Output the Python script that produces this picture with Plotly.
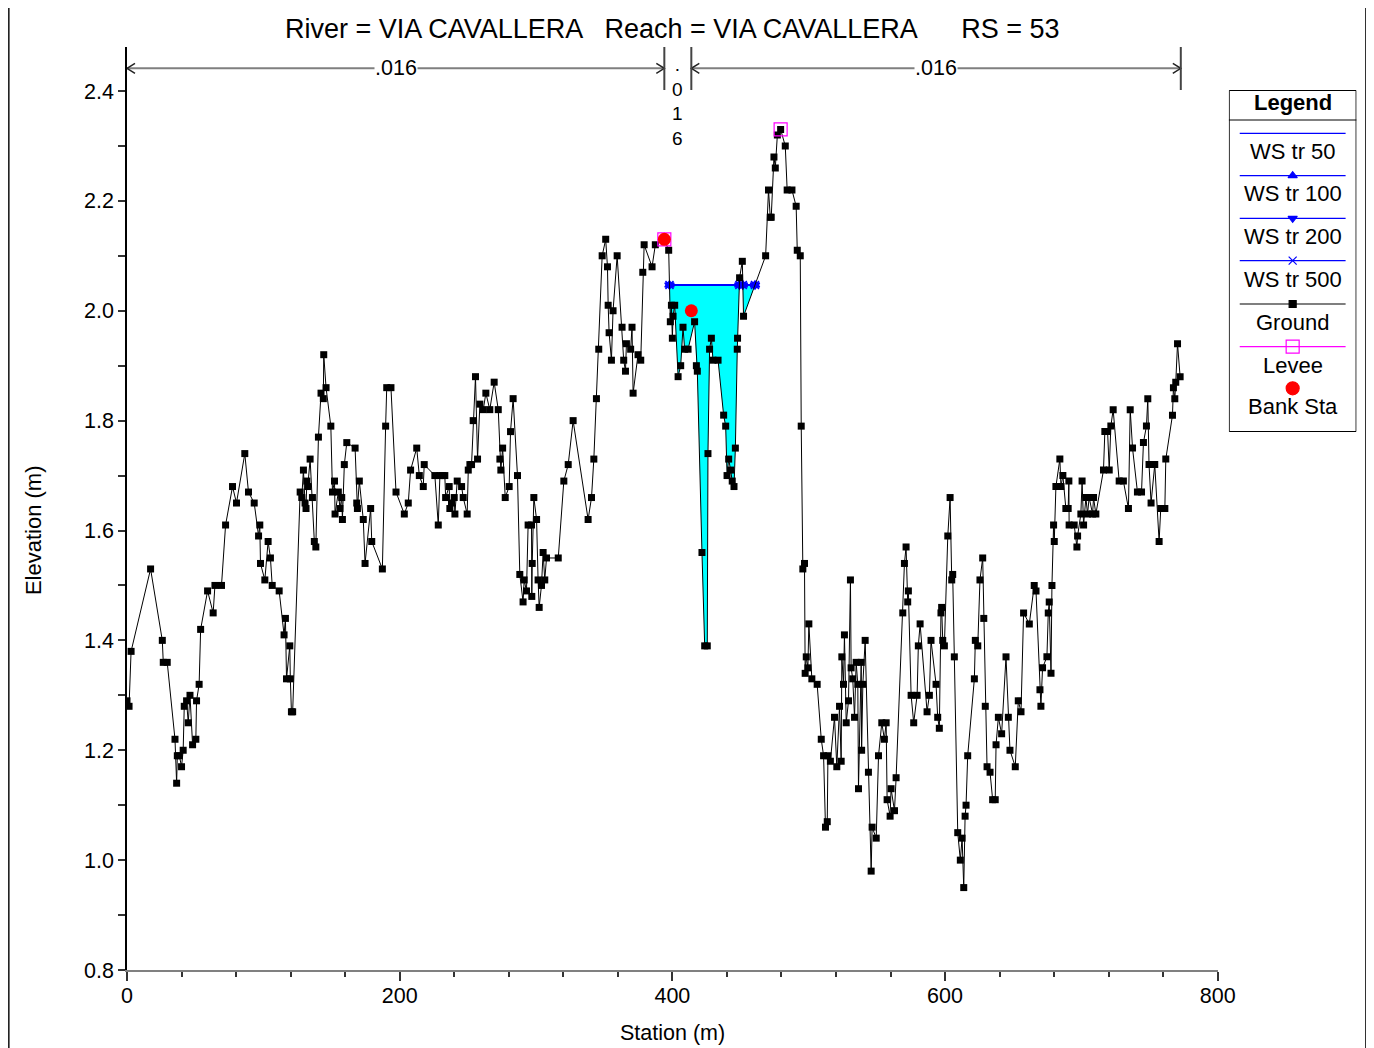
import plotly.graph_objects as go

# ---------------- data ----------------
station = [
    0, 1.5, 3, 17.3, 25.9, 26.6, 29.5, 35.2, 36.4, 36.9, 38.4, 40, 41.2, 42, 43.7, 44.9, 46.2, 48.1, 50.5, 51,
    52.9, 54, 59.1, 63.2, 64.5, 69.3, 72.3, 77.4, 80.3, 86.4, 89.1, 93.3, 96.5, 97.4, 97.9, 101.1, 103.5, 105.2,
    106.5, 111.6, 115.2, 116.2, 117, 119.4, 119.8, 120.6, 121.5,
    127, 128.2, 129.4, 130.6, 131.3, 131.9, 132.6, 134.3, 136, 137.4, 138.5, 140.4, 142.3, 144, 144.3, 146,
    149.5, 150.7, 152.2, 152.6, 155, 156.2, 157.5, 158, 159.4, 161.2, 167.3, 168.5, 169, 170.4, 173.3, 174.6,
    178.7, 179.5, 187.3, 189.7, 190.5, 193.6, 197.3, 203.4, 206.3, 208, 212.5, 214.4, 217.3, 218, 225.8, 228.3,
    229.5, 231.3, 233.1, 233.7, 236.3, 236.8, 238, 240, 240.5, 242.2, 245.4, 246.6, 249.5, 250.3, 251.5, 252.7,
    253.9, 255.6, 257.1, 258.8, 261.3, 263.2, 266.1, 269.3, 272.3, 273.5, 274.2, 275.5, 277.4, 280.3, 281.3,
    283.2, 286.4, 288.1, 290.5, 291.3, 293, 294.2, 296.7, 296.9, 297.2, 298.4, 300.4, 301.5, 302.3, 304, 305.2,
    306.4, 307.7, 316.3, 320.4, 323.6, 327.2, 338.2, 340.7, 342.4, 344.3, 346, 348.5, 351.1, 352.4, 352.9,
    353.6, 355.3, 356.5, 359.5, 363.1, 364.3, 365.6, 366.3, 369.4, 370.4, 371.2, 374.8, 376.8, 378.3, 379.3,
    385.1, 387.5, 394.1, 397.3, 398.5, 399.3, 400, 400.5, 401.7, 404.2, 406.1, 407.8, 409, 411.5, 416.3, 417.6,
    418.3, 421.7, 423.7, 425.6, 426.1, 427.3, 428.6, 429.8, 433.5, 437.6, 439.1, 440.1, 441.3, 442.7, 443.9,
    445.2, 446.2, 447.6, 447.8, 449.3, 451.3, 452.2, 468.4, 470.5, 471.8, 472.5, 474.5, 475.5, 477, 479.4,
    482.8, 484.2, 487.7, 490.8, 491.6, 493.8, 494.5, 495.7, 496.9, 497.4, 498.2, 499.4, 500.1, 502.3, 506.2,
    509.2, 510.9, 512.3, 513.6, 514.1, 515.9, 518.9, 520.6, 522.6, 523.8, 524.3, 525.5, 526.2, 527.5, 529.2,
    530.6, 531.1, 532.3, 533.6, 534.8, 536, 536.5, 538.5, 538.8, 539.7, 541.4, 543.8, 545.8, 546.5, 549.5,
    551.2, 553.6, 555.5, 556.8, 557.5, 559.7, 560.4, 562.9, 564.1, 569, 570.2, 571.4, 572.6, 573.1, 575.1,
    577, 579.5, 580.4, 581.7, 586.8, 588.5, 589.7, 593.4, 594.6, 595.8, 597, 597.5, 598.3, 599.5, 602, 603.7,
    604.9, 605.6, 606.8, 609.3, 611.2, 612.5, 613.7, 614.7, 615.4, 616.6, 621.5, 622.2, 624, 625.6, 627.6,
    628.4, 629.5, 630.8, 633, 634.9, 636.8, 637.4, 639.1, 641.5, 644.7, 646.4, 647.6, 651.5, 653.7, 655.7,
    657.6, 661.8, 665.4, 666.7, 669.6, 670.3, 671.5, 674.7, 675.7, 676.4, 677.7, 678.4, 679.6, 680.1, 681.3,
    684.2, 685, 686.4, 688.6, 690.3, 690.8, 691, 694.7, 696.7, 697.2, 699.6, 700.5, 701.6, 703.3, 704.5,
    705.7, 708.2, 708.9, 710.6, 716.2, 717.2, 719.2, 720.4, 721.6, 723.3, 727.7, 730.8, 734.5, 735.8, 737.5,
    741.1, 744.1, 745.5, 747.7, 748.7, 749.6, 751.1, 753.8, 757, 758.2, 761.2, 761.9, 766.8, 767.5, 768.5,
    769.2, 770.5, 772.4,
]
elevation = [
    1.29, 1.28, 1.38, 1.53, 1.40, 1.36, 1.36, 1.22, 1.14, 1.19, 1.19, 1.17, 1.20, 1.28, 1.29, 1.25, 1.30, 1.21, 1.22, 1.29,
    1.32, 1.42, 1.49, 1.45, 1.50, 1.50, 1.61, 1.68, 1.65, 1.74, 1.67, 1.65, 1.59, 1.61, 1.54, 1.51, 1.58, 1.55,
    1.50, 1.49, 1.41, 1.44, 1.33, 1.39, 1.33, 1.27, 1.27,
    1.67, 1.66, 1.71, 1.65, 1.64, 1.69, 1.68, 1.73, 1.66, 1.58, 1.57, 1.77, 1.85, 1.84, 1.92, 1.86,
    1.79, 1.67, 1.69, 1.63, 1.67, 1.64, 1.66, 1.62, 1.72, 1.76, 1.75, 1.65, 1.64, 1.69, 1.62, 1.54,
    1.64, 1.58, 1.53, 1.79, 1.86, 1.86, 1.67, 1.63, 1.65, 1.71, 1.75, 1.70, 1.68, 1.72, 1.70, 1.61,
    1.70, 1.70, 1.70, 1.66, 1.68, 1.64, 1.65, 1.66, 1.63, 1.69, 1.68, 1.66, 1.63, 1.71, 1.72, 1.72,
    1.80, 1.88, 1.73, 1.83, 1.82, 1.85, 1.82, 1.87, 1.82, 1.73, 1.71, 1.75, 1.66, 1.68, 1.78,
    1.84, 1.70, 1.52, 1.47, 1.51, 1.49, 1.61, 1.61, 1.48, 1.54, 1.66, 1.62, 1.51, 1.46, 1.50, 1.56,
    1.51, 1.55, 1.55, 1.69, 1.72, 1.80, 1.62, 1.66, 1.73, 1.84, 1.93, 2.10, 2.13, 2.08, 2.01,
    1.96, 1.91, 2.00, 2.10, 1.97, 1.91, 1.89, 1.94, 1.93, 1.97, 1.85, 1.92, 1.91, 2.07, 2.12,
    2.08, 2.12, 2.13, 2.11, 1.98, 2.01, 1.95, 1.99, 2.01, 1.88, 1.90, 1.97, 1.93, 1.93, 1.98, 1.90,
    1.89, 1.56, 1.39, 1.39, 1.74, 1.93, 1.95, 1.91, 1.91, 1.81, 1.79, 1.70, 1.73, 1.71, 1.69,
    1.68, 1.75, 1.93, 1.95, 2.06, 2.09, 1.99, 2.10, 2.22, 2.17, 2.17, 2.28, 2.26, 2.32, 2.33,
    2.30, 2.22, 2.22, 2.19, 2.11, 2.10, 1.79, 1.53, 1.54, 1.34, 1.37, 1.35, 1.43, 1.33, 1.32,
    1.22, 1.19, 1.06, 1.07, 1.19, 1.18, 1.26, 1.17, 1.28, 1.18, 1.37, 1.32, 1.41, 1.25, 1.29,
    1.51, 1.35, 1.33, 1.26, 1.36, 1.32, 1.13, 1.36, 1.20, 1.32, 1.40, 1.16, 0.98, 1.06, 1.04,
    1.19, 1.25, 1.22, 1.25, 1.11, 1.08, 1.13, 1.09, 1.15, 1.45, 1.54, 1.57, 1.47, 1.49, 1.30,
    1.25, 1.30, 1.39, 1.43, 1.27, 1.30, 1.40, 1.32, 1.26, 1.24, 1.45, 1.46, 1.40, 1.39, 1.59, 1.66,
    1.51, 1.52, 1.37, 1.05, 1.00, 1.04, 0.95, 1.08, 1.10, 1.19, 1.33, 1.40, 1.39, 1.51, 1.55,
    1.44, 1.28, 1.17, 1.16, 1.11, 1.11, 1.21, 1.26, 1.23, 1.37, 1.26, 1.20, 1.17, 1.29, 1.27,
    1.45, 1.43, 1.50, 1.49, 1.31, 1.28, 1.35, 1.37, 1.45, 1.47, 1.34, 1.50, 1.61, 1.58, 1.68,
    1.73, 1.68, 1.70, 1.64, 1.64, 1.69, 1.61, 1.61, 1.57, 1.59, 1.63, 1.69, 1.61, 1.66, 1.63,
    1.66, 1.63, 1.66, 1.63, 1.71, 1.78, 1.78, 1.71, 1.79, 1.82, 1.69, 1.69, 1.64, 1.82, 1.75,
    1.67, 1.67, 1.76, 1.79, 1.84, 1.72, 1.65, 1.72, 1.58, 1.64, 1.64, 1.73, 1.81, 1.86, 1.84,
    1.87, 1.94, 1.88,
]

ws_profiles = ["WS tr 50", "WS tr 100", "WS tr 200", "WS tr 500"]
ws_elev = [2.047, 2.047, 2.047, 2.047]
ws_symbols = [None, "triangle-up", "triangle-down", "x-thin"]

levee_sta = [394.1, 479.4]
levee_elev = [2.13, 2.33]
bank_sta = [394.1, 413.9]
bank_elev = [2.13, 2.00]
n_values = [".016", ".016", ".016"]
reach_end = 772.9

title_text = "River = VIA CAVALLERA   Reach = VIA CAVALLERA      RS = 53"

FONT = "Liberation Sans, Arial, sans-serif"
BLUE = "#0000FF"

# ---------- layout geometry ----------
# target positions are given in screenshot pixels; the page adds an 8px body margin
# and the capture compresses x slightly (factor K)
K = 0.9865


def fxp(ref_x):
    return (ref_x - 8) / K


W, H = 1378, 1040
L = fxp(125)
R = 2
T, B = 39, 78
paper_w = W - L - R
plot_w = fxp(1217) - fxp(125)
paper_h = H - T - B
x_dom_end = plot_w / paper_w
Y_MIN, Y_MAX = 0.8, 2.4 + 44 / 549.375
XPX = 1092 / 800.0
YPX = paper_h / (Y_MAX - Y_MIN)


def ydata(py):
    return Y_MIN + (970 - py) / YPX


def xpaper(px):
    return (fxp(px) - L) / paper_w


def ypaper(py):
    return (970 - py) / paper_h


# ---------- wetted region computation ----------
def wet_segments(xs, ys, ws, lo, hi):
    pts = []
    idx = [i for i, x in enumerate(xs) if lo <= x <= hi]
    for k, i in enumerate(idx):
        pts.append((xs[i], ys[i]))
        if k + 1 < len(idx):
            j = idx[k + 1]
            y0, y1 = ys[i], ys[j]
            if (y0 - ws) * (y1 - ws) < 0:
                xc = xs[i] + (ws - y0) * (xs[j] - xs[i]) / (y1 - y0)
                pts.append((xc, ws))
    segs = []
    cur = []
    for x, y in pts:
        if y <= ws + 1e-9:
            cur.append((x, y))
        else:
            if len(cur) > 1:
                segs.append(cur)
            cur = []
    if len(cur) > 1:
        segs.append(cur)
    return segs


segs = wet_segments(station, elevation, ws_elev[0], levee_sta[0], levee_sta[1])

fig = go.Figure()

# water fill
fx, fy = [], []
for s in segs:
    xs_ = [p[0] for p in s]
    ys_ = [p[1] for p in s]
    fx += xs_ + [xs_[-1], xs_[0], xs_[0], None]
    fy += ys_ + [ws_elev[0], ws_elev[0], ys_[0], None]
fig.add_trace(go.Scatter(x=fx, y=fy, fill="toself", fillcolor="#00FFFF", mode="lines",
                         line=dict(width=0, color="#00FFFF"), hoverinfo="skip", showlegend=False))

# water surface lines + markers
for name, wse, sym in zip(ws_profiles, ws_elev, ws_symbols):
    lx, ly, mx, my = [], [], [], []
    for s in segs:
        lx += [s[0][0], s[-1][0], None]
        ly += [wse, wse, None]
        mx += [s[0][0], s[-1][0]]
        my += [wse, wse]
    fig.add_trace(go.Scatter(x=lx, y=ly, mode="lines", line=dict(color=BLUE, width=1.5),
                             name=name, showlegend=False))
    if sym:
        fig.add_trace(go.Scatter(x=mx, y=my, mode="markers",
                                 marker=dict(symbol=sym, size=8, color=BLUE,
                                             line=dict(color=BLUE, width=1.5)),
                                 showlegend=False, hoverinfo="skip"))

# ground
fig.add_trace(go.Scatter(x=station, y=elevation, mode="lines+markers", name="Ground",
                         line=dict(color="black", width=1),
                         marker=dict(symbol="square", size=7, color="black"), showlegend=False))
# levee
fig.add_trace(go.Scatter(x=levee_sta, y=levee_elev, mode="markers", name="Levee",
                         marker=dict(symbol="square-open", size=13, color="#FF00FF",
                                     line=dict(width=1.2, color="#FF00FF")), showlegend=False))
# bank stations
fig.add_trace(go.Scatter(x=bank_sta, y=bank_elev, mode="markers", name="Bank Sta",
                         marker=dict(symbol="circle", size=13, color="#FF0000"), showlegend=False))

shapes = []
annotations = []

# ---------- n-value bar ----------
yn = ydata(68.3)
ytop = ydata(47)
ybot = ydata(90)
GRAY = "#7F7F7F"
n_ranges = [(0, bank_sta[0]), (bank_sta[0], bank_sta[1]), (bank_sta[1], reach_end)]
for (a, b), nv in [(n_ranges[0], n_values[0]), (n_ranges[2], n_values[2])]:
    shapes.append(dict(type="line", xref="x", yref="y", x0=a, x1=b, y0=yn, y1=yn,
                       line=dict(color=GRAY, width=2)))
    annotations.append(dict(x=(a + b) / 2, y=yn, xref="x", yref="y", text=nv, showarrow=False,
                            bgcolor="white", font=dict(family=FONT, size=21.5, color="black"),
                            xanchor="center", yanchor="middle", borderpad=0))
    dx = 8 / XPX
    dy = 5 / YPX
    for xe, direction in [(a, -1), (b, 1)]:
        path = "M {x1},{y1} L {x0},{y0} L {x1},{y2}".format(
            x1=xe - direction * dx, y1=yn + dy, x0=xe, y0=yn, y2=yn - dy)
        shapes.append(dict(type="path", xref="x", yref="y", path=path,
                           line=dict(color="#222222", width=1.5)))
for xv in [bank_sta[0], bank_sta[1], reach_end]:
    shapes.append(dict(type="line", xref="x", yref="y", x0=xv, x1=xv, y0=ytop, y1=ybot,
                       line=dict(color="#444444", width=2)))
mid_ch = (bank_sta[0] + bank_sta[1]) / 2
annotations.append(dict(x=mid_ch, y=ydata(101), xref="x", yref="y",
                        text="<br>".join(list(n_values[1])), showarrow=False,
                        font=dict(family=FONT, size=19, color="black"),
                        xanchor="center", yanchor="middle", align="center"))

# ---------- axis titles & title ----------
annotations.append(dict(x=xpaper(31), y=ypaper(530), xref="paper", yref="paper", text="Elevation (m)",
                        textangle=-90, showarrow=False, font=dict(family=FONT, size=22, color="black"),
                        xanchor="center", yanchor="middle"))
annotations.append(dict(x=xpaper(671), y=ypaper(1033), xref="paper", yref="paper", text="Station (m)",
                        showarrow=False, font=dict(family=FONT, size=21.5, color="black"),
                        xanchor="center", yanchor="middle"))
annotations.append(dict(x=xpaper(671), y=ypaper(29), xref="paper", yref="paper", text=title_text,
                        showarrow=False, font=dict(family=FONT, size=27, color="black"),
                        xanchor="center", yanchor="middle"))

# ---------- custom legend on its own axes (pixel units) ----------
LX0, LX1, LY0, LY1 = 1228, 1356, 90, 432
shapes.append(dict(type="rect", xref="x2", yref="y2", x0=LX0 + 0.5, x1=LX1 - 0.5, y0=LY0 + 0.5,
                   y1=LY1 - 0.5, line=dict(color="black", width=1), fillcolor="white", layer="below"))
shapes.append(dict(type="line", xref="x2", yref="y2", x0=LX0, x1=LX1, y0=120, y1=120,
                   line=dict(color="black", width=1)))
annotations.append(dict(x=1292, y=103, xref="x2", yref="y2", text="<b>Legend</b>", showarrow=False,
                        font=dict(family=FONT, size=22, color="black"), xanchor="center", yanchor="middle"))

leg_items = [
    ("WS tr 50", BLUE, None, 133.3, 151.7),
    ("WS tr 100", BLUE, "triangle-up", 175.7, 194),
    ("WS tr 200", BLUE, "triangle-down", 218.3, 236.7),
    ("WS tr 500", BLUE, "x-thin", 260.7, 279),
    ("Ground", "black", "square", 304, 322.3),
    ("Levee", "#FF00FF", "square-open", 346.7, 365),
    ("Bank Sta", "#FF0000", "circle", 388.3, 406.7),
]
for name, col, sym, yl, yt in leg_items:
    if name != "Bank Sta":
        fig.add_trace(go.Scatter(x=[1239, 1345], y=[yl, yl], xaxis="x2", yaxis="y2", mode="lines",
                                 line=dict(color=col, width=1.2), showlegend=False, hoverinfo="skip"))
    if sym:
        size = {"square": 7, "square-open": 13, "circle": 13}.get(sym, 8)
        fig.add_trace(go.Scatter(x=[1292], y=[yl], xaxis="x2", yaxis="y2", mode="markers",
                                 marker=dict(symbol=sym, size=size, color=col, line=dict(color=col, width=1.2)),
                                 showlegend=False, hoverinfo="skip"))
    annotations.append(dict(x=1292, y=yt, xref="x2", yref="y2", text=name, showarrow=False,
                            font=dict(family=FONT, size=22, color="black"), xanchor="center",
                            yanchor="middle"))

# outer frame lines
for px in [6, 1366]:
    shapes.append(dict(type="line", xref="paper", yref="paper", x0=xpaper(px), x1=xpaper(px),
                       y0=-0.2, y1=1.2, line=dict(color="#222222", width=3)))

fig.update_layout(
    width=W, height=H,
    margin=dict(l=L, r=R, t=T, b=B),
    paper_bgcolor="white", plot_bgcolor="white",
    showlegend=False,
    font=dict(family=FONT, size=21, color="black"),
    xaxis=dict(domain=[0, x_dom_end], range=[0, 800], showgrid=False, zeroline=False,
               showline=True, linecolor="#808080", linewidth=1.5,
               ticks="outside", ticklen=9, tickcolor="#333333", tickwidth=1.5,
               tick0=0, dtick=200, ticklabelstandoff=-4,
               minor=dict(ticks="outside", ticklen=5, dtick=40, tickcolor="#333333", tickwidth=1.5),
               tickfont=dict(family=FONT, size=21.5, color="black")),
    yaxis=dict(range=[Y_MIN, Y_MAX], showgrid=False, zeroline=False,
               showline=True, linecolor="black", linewidth=1.5,
               ticks="outside", ticklen=7, tickcolor="#333333", tickwidth=1.5,
               tick0=0.8, dtick=0.2, tickformat=".1f",
               minor=dict(ticks="outside", ticklen=7, dtick=0.1, tickcolor="#333333", tickwidth=1.5),
               tickfont=dict(family=FONT, size=21.5, color="black")),
    xaxis2=dict(domain=[xpaper(LX0), xpaper(LX1)], range=[LX0, LX1], visible=False, fixedrange=True),
    yaxis2=dict(domain=[ypaper(LY1), ypaper(LY0)], range=[LY1, LY0], visible=False, fixedrange=True,
                anchor="x2"),
    shapes=shapes,
    annotations=annotations,
)
fig.update_traces(cliponaxis=False, selector=dict(xaxis="x2"))

fig.write_html("out.html")
